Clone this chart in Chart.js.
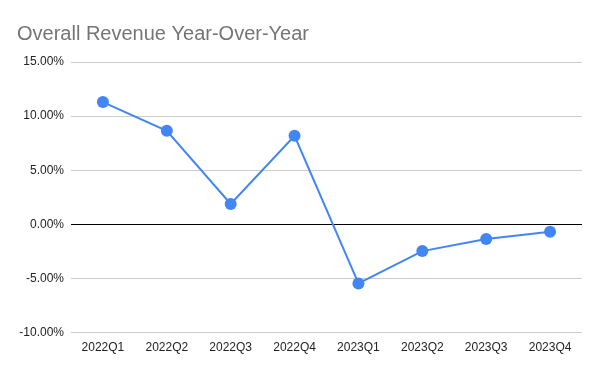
<!DOCTYPE html>
<html>
<head>
<meta charset="utf-8">
<script src="https://cdn.jsdelivr.net/npm/chart.js@4/dist/chart.umd.min.js"></script>
<style>
  html, body { margin: 0; padding: 0; background: #fff; }
  #wrap { width: 600px; height: 371px; }
</style>
</head>
<body>
<div id="wrap"><canvas id="yoy" width="600" height="371"></canvas></div>
<script>
// data
const quarters = ["2022Q1", "2022Q2", "2022Q3", "2022Q4", "2023Q1", "2023Q2", "2023Q3", "2023Q4"];
const revenueYoY = [11.3, 8.64, 1.88, 8.18, -5.46, -2.47, -1.36, -0.68];
const yTicks = [-10, -5, 0, 5, 10, 15];

const blue = "#4285F4";
Chart.defaults.font.family = "'Liberation Sans', Arial, sans-serif";

const yoyConfig = {
  type: "line",
  data: {
    labels: quarters,
    datasets: [
      {
        label: "Revenue YoY",
        data: revenueYoY,
        borderColor: blue,
        backgroundColor: blue,
        borderWidth: 2,
        pointRadius: 6,
        pointHoverRadius: 6,
        pointBorderWidth: 0,
        tension: 0,
      },
    ],
  },
  options: {
    responsive: false,
    animation: false,
    layout: { padding: { left: 17, right: 18, top: 0, bottom: 16 } },
    plugins: {
      legend: { display: false },
      tooltip: { enabled: false },
      title: {
        display: true,
        text: "Overall Revenue Year-Over-Year",
        align: "start",
        color: "#757575",
        font: { size: 20, weight: "normal" },
        padding: { top: 22, bottom: 16 },
      },
    },
    scales: {
      x: {
        offset: true,
        grid: { display: false },
        border: { display: false },
        ticks: { color: "#222", font: { size: 12 }, padding: 0, maxRotation: 0 },
      },
      y: {
        min: yTicks[0],
        max: yTicks[yTicks.length - 1],
        afterBuildTicks: (axis) => { axis.ticks = yTicks.map((v) => ({ value: v })); },
        afterFit: (axis) => { axis.width = 54; },
        border: { display: false },
        grid: {
          drawTicks: false,
          color: (ctx) => (ctx.tick && ctx.tick.value === 0 ? "#000" : "#cccccc"),
          lineWidth: 1,
        },
        ticks: {
          color: "#222",
          font: { size: 12 },
          padding: 7,
          callback: (v) => v.toFixed(2) + "%",
        },
      },
    },
  },
};

const yoyCtx = document.getElementById("yoy").getContext("2d");
const yoyChart = new Chart(yoyCtx, yoyConfig);
</script>
</body>
</html>
